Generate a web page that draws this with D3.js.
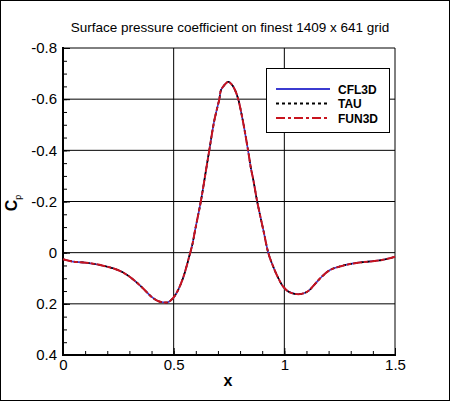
<!DOCTYPE html>
<html>
<head>
  <meta charset="utf-8">
  <title>Cp</title>
  <script src="https://cdnjs.cloudflare.com/ajax/libs/d3/7.8.5/d3.min.js"></script>
  <style>
    body { margin: 0; background: #fff; }
    text { font-family: "Liberation Sans", Arial, sans-serif; }
  </style>
</head>
<body>
<script>
// values (x, Cp); the three codes lie on top of each other
var xs = [0, 0.045, 0.09, 0.136, 0.181, 0.226, 0.271, 0.316, 0.361, 0.399, 0.429, 0.452, 0.474, 0.497, 0.52, 0.542,
          0.56, 0.572, 0.584, 0.597, 0.622, 0.646, 0.66, 0.684, 0.706, 0.714, 0.729, 0.739, 0.747, 0.762, 0.777,
          0.792, 0.812, 0.837, 0.849, 0.86, 0.878, 0.905, 0.928, 0.95, 0.973, 0.995, 1.018, 1.048, 1.078, 1.108,
          1.138, 1.169, 1.206, 1.259, 1.319, 1.379, 1.44, 1.5];
var cpCFL3D = [0.026, 0.035, 0.038, 0.043, 0.051, 0.061, 0.077, 0.104, 0.139, 0.172, 0.189, 0.194, 0.194, 0.178, 0.146, 0.1,
               0.048, 0.009, -0.03, -0.089, -0.197, -0.322, -0.395, -0.518, -0.599, -0.636, -0.655, -0.664, -0.668, -0.658, -0.636,
               -0.599, -0.518, -0.395, -0.33, -0.284, -0.197, -0.089, 0.002, 0.055, 0.1, 0.133, 0.152, 0.161, 0.161, 0.15,
               0.123, 0.094, 0.068, 0.052, 0.041, 0.035, 0.029, 0.016];
var cpTAU = cpCFL3D;   // indistinguishable in the plot
var cpFUN3D = cpCFL3D;

var seriesNames = ["CFL3D", "TAU", "FUN3D"];
var xTicks = [0, 0.5, 1, 1.5];
var yTicks = [-0.8, -0.6, -0.4, -0.2, 0, 0.2, 0.4];

var width = 450, height = 401;
var pl = 63, pr = 395, pt = 48, pb = 355;

var svg = d3.select("body").append("svg").attr("width", width).attr("height", height);

svg.append("rect").attr("x", 0.5).attr("y", 0.5).attr("width", 449).attr("height", 400)
   .attr("fill", "#fff").attr("stroke", "#000");

var x = d3.scaleLinear().domain([0, 1.5]).range([pl, pr]);
var y = d3.scaleLinear().domain([-0.8, 0.4]).range([pt, pb]);

// grid
svg.append("g").selectAll("line").data(xTicks.slice(1, -1)).enter().append("line")
   .attr("x1", function(d) { return x(d); }).attr("x2", function(d) { return x(d); })
   .attr("y1", pt).attr("y2", pb).attr("stroke", "#000");
svg.append("g").selectAll("line").data(yTicks.slice(1, -1)).enter().append("line")
   .attr("x1", pl).attr("x2", pr)
   .attr("y1", function(d) { return y(d); }).attr("y2", function(d) { return y(d); })
   .attr("stroke", "#000");

// minor ticks
var yMinor = d3.range(-0.8, 0.4001, 0.05).map(function(d) { return +d.toFixed(2); });
var xMinor = d3.range(0, 1.5001, 0.1).map(function(d) { return +d.toFixed(2); });
svg.append("g").attr("transform", "translate(" + pl + ",0)")
   .call(d3.axisLeft(y).tickValues(yMinor).tickSize(-4).tickFormat(""))
   .call(function(g) { g.select(".domain").remove(); });
svg.append("g").attr("transform", "translate(0," + pb + ")")
   .call(d3.axisBottom(x).tickValues(xMinor).tickSize(-4).tickFormat(""))
   .call(function(g) { g.select(".domain").remove(); });

// major axes (plain hyphen minus like the original)
var yAxis = svg.append("g").attr("transform", "translate(" + pl + ",0)")
   .call(d3.axisLeft(y).tickValues(yTicks).tickSize(-7).tickPadding(6).tickFormat(function(d) { return String(d); }));
var xAxis = svg.append("g").attr("transform", "translate(0," + pb + ")")
   .call(d3.axisBottom(x).tickValues(xTicks).tickSize(-7).tickPadding(6).tickFormat(function(d) { return String(d); }));
[yAxis, xAxis].forEach(function(a) {
  a.select(".domain").remove();
  a.selectAll("text").attr("font-family", "Liberation Sans, Arial, sans-serif").attr("font-size", 15).attr("fill", "#000");
});
xAxis.selectAll("text").attr("dy", "0.62em");

// frame
svg.append("line").attr("x1", pl).attr("x2", pr).attr("y1", pt).attr("y2", pt).attr("stroke", "#000");
svg.append("line").attr("x1", pr).attr("x2", pr).attr("y1", pt).attr("y2", pb).attr("stroke", "#000");
svg.append("line").attr("x1", pl).attr("x2", pl).attr("y1", pt - 1).attr("y2", pb + 1).attr("stroke", "#000").attr("stroke-width", 2);
svg.append("line").attr("x1", pl - 1).attr("x2", pr + 1).attr("y1", pb).attr("y2", pb).attr("stroke", "#000").attr("stroke-width", 2);

// curves
var styles = {
  CFL3D: { data: cpCFL3D, color: "#3b3bd0", dash: null, w: 1.6 },
  TAU:   { data: cpTAU,   color: "#000",    dash: "3,3", w: 1.6 },
  FUN3D: { data: cpFUN3D, color: "#c8141e", dash: "9,2,4,2", w: 2 }
};
var line = d3.line()
   .x(function(d) { return x(d[0]); })
   .y(function(d) { return y(d[1]); })
   .curve(d3.curveCatmullRom.alpha(0.5));

seriesNames.forEach(function(name) {
  var s = styles[name];
  svg.append("path")
     .datum(d3.zip(xs, s.data))
     .attr("d", line)
     .attr("fill", "none")
     .attr("stroke", s.color)
     .attr("stroke-width", s.w)
     .attr("stroke-dasharray", s.dash);
});

// legend
svg.append("rect").attr("x", 266.5).attr("y", 68.5).attr("width", 123).attr("height", 64)
   .attr("fill", "#fff").attr("stroke", "#000");
var legendDash = { CFL3D: null, TAU: "3,3", FUN3D: "9,3,3,3" };
seriesNames.forEach(function(name, i) {
  var s = styles[name], ly = 89 + i * 14.5;
  svg.append("line").attr("x1", 276).attr("x2", 330).attr("y1", ly).attr("y2", ly)
     .attr("stroke", s.color).attr("stroke-width", 2).attr("stroke-dasharray", legendDash[name]);
  svg.append("text").attr("x", 338).attr("y", ly + 4.5)
     .attr("font-size", 12).attr("font-weight", "bold").text(name);
});

// labels
svg.append("text").attr("x", 230).attr("y", 32).attr("text-anchor", "middle")
   .attr("font-size", 13.5).text("Surface pressure coefficient on finest 1409 x 641 grid");

svg.append("text").attr("x", 228).attr("y", 386).attr("text-anchor", "middle")
   .attr("font-size", 16).attr("font-weight", "bold").text("x");

var cp = svg.append("text").attr("transform", "translate(17,203) rotate(-90)")
   .attr("text-anchor", "middle").attr("font-size", 16).attr("font-weight", "bold");
cp.append("tspan").text("C");
cp.append("tspan").attr("font-size", 9).attr("font-weight", "normal").attr("dy", 4).text("p");
</script>
</body>
</html>
